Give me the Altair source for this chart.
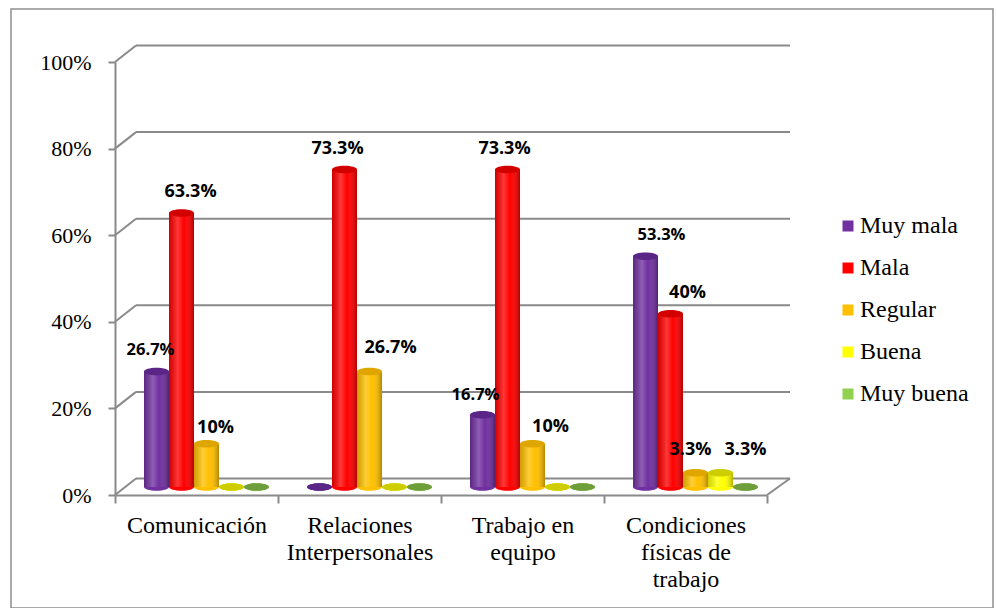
import json
import altair as alt
import pandas as pd

# ---- data -------------------------------------------------------------
categories = [
    "Comunicación",
    "Relaciones Interpersonales",
    "Trabajo en equipo",
    "Condiciones físicas de trabajo",
]
series = ["Muy mala", "Mala", "Regular", "Buena", "Muy buena"]

muy_mala = [26.7, 0, 16.7, 53.3]
mala = [63.3, 73.3, 73.3, 40]
regular = [10, 26.7, 10, 3.3]
buena = [0, 0, 0, 3.3]
muy_buena = [0, 0, 0, 0]

y_ticks = [0, 20, 40, 60, 80, 100]

# ---- styling ----------------------------------------------------------
body_colors = ["#7030A0", "#FF0000", "#FFC000", "#FFFF00", "#92D050"]
cap_colors = ["#5A2586", "#D30000", "#DFA600", "#CDCD00", "#6E9E3A"]

# wrapped category labels
label_lines = {
    "Comunicación": ["Comunicación"],
    "Relaciones Interpersonales": ["Relaciones", "Interpersonales"],
    "Trabajo en equipo": ["Trabajo en", "equipo"],
    "Condiciones físicas de trabajo": ["Condiciones", "físicas de", "trabajo"],
}

# value label nudges (dx, dy, font size) keyed by series / category index
label_style = {
    ("Muy mala", 0): (-6, -21, 16.5),
    ("Mala", 0): (9, -21, 18),
    ("Regular", 0): (9, -16, 18),
    ("Mala", 1): (-7, -21, 18),
    ("Regular", 1): (21, -23, 18),
    ("Muy mala", 2): (-7, -20, 16.5),
    ("Mala", 2): (-3, -21, 18),
    ("Regular", 2): (18, -17, 18),
    ("Muy mala", 3): (16, -21, 16.5),
    ("Mala", 3): (17, -21, 18),
    ("Regular", 3): (-5, -23, 18),
    ("Buena", 3): (25, -23, 18),
}

SERIF = "'Liberation Serif', 'Times New Roman', 'DejaVu Serif', serif"
SANS = "Open Sans"
GRID = "#8a8a8a"

# plot geometry (pixels inside the framed view)
VIEW_W, VIEW_H = 982, 599
FRONT_X0, FRONT_X1 = 104, 756        # front edge of the floor
BACK_X0, BACK_X1 = 125, 779          # back wall extent
FRONT_RANGE = [486, 53]              # 0% .. 100% on the front plane
BAR_RANGE = [478, 45]                # 0% .. 100% at the bars' depth
DEPTH_PX = 16.5                      # vertical shift to the back wall
DEPTH_UNITS = DEPTH_PX / ((FRONT_RANGE[0] - FRONT_RANGE[1]) / 100)

values = {"Muy mala": muy_mala, "Mala": mala, "Regular": regular,
          "Buena": buena, "Muy buena": muy_buena}

rows = []
for si, s in enumerate(series):
    for ci, c in enumerate(categories):
        v = values[s][ci]
        rows.append({
            "category": c, "series": s, "v": v, "base": 0,
            "body": body_colors[si], "cap": cap_colors[si],
            "lbl": f"{v:g}%", "ci": ci,
        })
bars = pd.DataFrame(rows)

grid = pd.DataFrame({"v": y_ticks})
grid["back"] = grid["v"] + DEPTH_UNITS

# ---- scales / channels ------------------------------------------------
def front_y(field, axis=None):
    return alt.Y(field, scale=alt.Scale(domain=[0, 100], range=FRONT_RANGE, nice=False),
                 axis=axis)


def bar_x():
    return alt.X("category:N", sort=categories,
                 scale=alt.Scale(domain=categories, range=[114, 766],
                                 paddingInner=0.233, paddingOuter=0.1165),
                 axis=None)


def bar_off():
    return alt.XOffset("series:N", sort=series,
                       scale=alt.Scale(domain=series, paddingInner=0, paddingOuter=0))


def bar_y(field):
    return alt.Y(field, scale=alt.Scale(domain=[0, 100], range=BAR_RANGE, nice=False),
                 axis=None)


ELLIPSE = "M-1,0A1,0.3,0,1,1,1,0A1,0.3,0,1,1,-1,0Z"

# back wall gridlines
wall = alt.Chart(grid).mark_rule(color=GRID, strokeWidth=2).encode(
    x=alt.value(BACK_X0), x2=alt.value(BACK_X1),
    y=front_y("back:Q"),
)

# diagonal connectors from the value axis to the back wall, carrying the y axis
diag = alt.Chart(grid).mark_rule(color=GRID, strokeWidth=2).encode(
    x=alt.value(FRONT_X0), x2=alt.value(BACK_X0),
    y=front_y("v:Q", axis=alt.Axis(
        values=y_ticks, labelExpr="datum.value + '%'", title=None, grid=False,
        offset=-FRONT_X0, tickSize=7, labelPadding=17,
        labelFont=SERIF, labelFontSize=22, labelColor="#000000",
        domainColor=GRID, domainWidth=2, tickColor=GRID, tickWidth=2,
    )),
    y2="back:Q",
)

# right edge of the floor
floor_edge = alt.Chart(grid[grid["v"] == 0]).mark_rule(color=GRID, strokeWidth=2).encode(
    x=alt.value(BACK_X1), x2=alt.value(FRONT_X1),
    y=front_y("back:Q"), y2="v:Q",
)

# category axis along the front edge of the floor
expr_parts = []
for name, lines in label_lines.items():
    expr_parts.append(f"datum.label == {json.dumps(name, ensure_ascii=False)} ? "
                      f"{json.dumps(lines, ensure_ascii=False)} : ")
label_expr = "".join(expr_parts) + "datum.label"

cat_axis = alt.Chart(pd.DataFrame({"category": categories})).mark_point(opacity=0).encode(
    x=alt.X("category:N", sort=categories,
            scale=alt.Scale(domain=categories, range=[FRONT_X0, FRONT_X1],
                            paddingInner=0, paddingOuter=0),
            axis=alt.Axis(
                title=None, labelAngle=0, tickBand="extent", grid=False,
                offset=-(VIEW_H - FRONT_RANGE[0]), tickSize=8, labelPadding=10,
                labelFont=SERIF, labelFontSize=24, labelLineHeight=27,
                labelColor="#000000", labelExpr=label_expr, labelLimit=0,
                domainColor=GRID, domainWidth=2, tickColor=GRID, tickWidth=2,
            )),
)

# cylinder bottoms
bottoms = alt.Chart(bars).mark_point(shape=ELLIPSE, size=625, filled=True,
                                     opacity=1, strokeWidth=0).encode(
    x=bar_x(), xOffset=bar_off(), y=bar_y("base:Q"),
    color=alt.Color("body:N", scale=None),
)

# cylinder bodies (these carry the legend)
bodies = alt.Chart(bars).mark_bar(strokeWidth=0).encode(
    x=bar_x(), xOffset=bar_off(), y=bar_y("v:Q"),
    color=alt.Color("series:N", sort=series,
                    scale=alt.Scale(domain=series, range=body_colors),
                    legend=alt.Legend(
                        title=None, orient="none", legendX=825, legendY=205,
                        symbolType="square", symbolSize=121, symbolStrokeWidth=0,
                        labelFont=SERIF, labelFontSize=24, labelColor="#000000",
                        labelOffset=0, rowPadding=18, padding=0,
                    )),
)

# round shading across each cylinder
shade = alt.Chart(bars).mark_bar(
    strokeWidth=0,
    color=alt.Gradient(
        gradient="linear", x1=0, y1=0, x2=1, y2=0,
        stops=[
            alt.GradientStop(color="rgba(0,0,0,0.18)", offset=0),
            alt.GradientStop(color="rgba(255,255,255,0.22)", offset=0.35),
            alt.GradientStop(color="rgba(255,255,255,0)", offset=0.6),
            alt.GradientStop(color="rgba(0,0,0,0.30)", offset=1),
        ],
    ),
).encode(x=bar_x(), xOffset=bar_off(), y=bar_y("v:Q"))

# cylinder tops
caps = alt.Chart(bars).mark_point(shape=ELLIPSE, size=625, filled=True,
                                  opacity=1, strokeWidth=0).encode(
    x=bar_x(), xOffset=bar_off(), y=bar_y("v:Q"),
    color=alt.Color("cap:N", scale=None),
)

# value labels
label_layers = []
for (s, ci), (dx, dy, fs) in label_style.items():
    label_layers.append(
        alt.Chart(bars).transform_filter(
            (alt.datum.series == s) & (alt.datum.ci == ci)
        ).mark_text(font=SANS, fontWeight="bold", fontSize=fs, color="#000000",
                    baseline="middle", align="center", dx=dx, dy=dy).encode(
            x=bar_x(), xOffset=bar_off(), y=bar_y("v:Q"), text="lbl:N",
        )
    )

chart = alt.layer(
    wall, diag, floor_edge, cat_axis, bottoms, bodies, shade, caps, *label_layers
).resolve_scale(
    x="independent", y="independent", color="independent"
).properties(
    width=VIEW_W, height=VIEW_H,
    autosize=alt.AutoSizeParams(type="none"),
    padding={"left": 11, "top": 9, "right": 4, "bottom": 0},
    background="#ffffff",
).configure_view(
    stroke="#8f8f8f", strokeWidth=1.5,
)

chart.save("out.html", embed_options={"renderer": "svg", "actions": False})
